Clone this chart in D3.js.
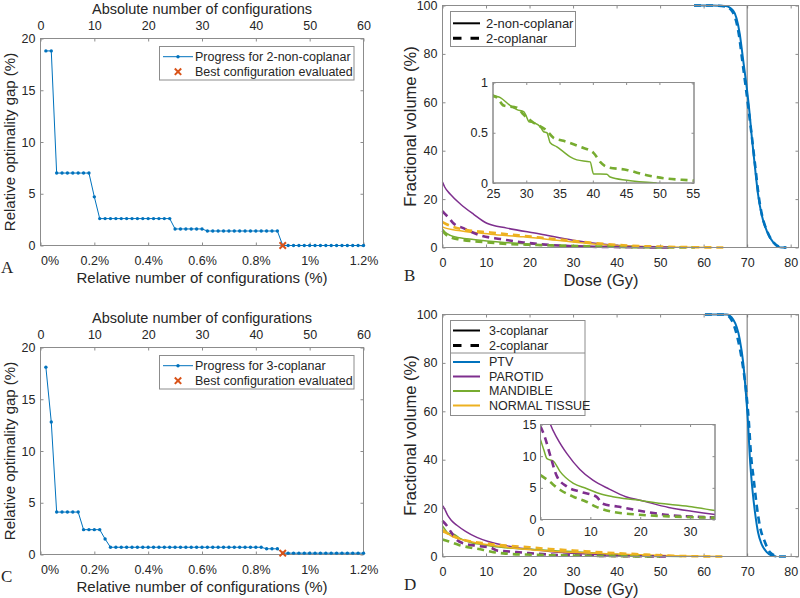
<!DOCTYPE html>
<html><head><meta charset="utf-8">
<script src="https://cdn.jsdelivr.net/npm/d3@7"></script>
<style>
body{margin:0;background:#fff}
svg{display:block}
</style></head><body>
<svg id="chart" width="800" height="598"></svg>
<script>
// ---------------- DATA ----------------
const absTicks = [0,10,20,30,40,50,60];
const relTicks = [0,0.2,0.4,0.6,0.8,1.0,1.2];
const relLabels = ["0%","0.2%","0.4%","0.6%","0.8%","1%","1.2%"];
const gapTicks = [0,5,10,15,20];
const configNumbers = [1,2,3,4,5,6,7,8,9,10,11,12,13,14,15,16,17,18,19,20,21,22,23,24,25,26,27,28,29,30,
  31,32,33,34,35,36,37,38,39,40,41,42,43,44,45,46,47,48,49,50,51,52,53,54,55,56,57,58,59,60];
const gapA = [18.8,18.8, 7.0,7.0,7.0,7.0,7.0,7.0,7.0, 4.7,
  2.6,2.6,2.6,2.6,2.6,2.6,2.6,2.6,2.6,2.6,2.6,2.6,2.6,2.6,
  1.6,1.6,1.6,1.6,1.6,1.6,
  1.4,1.4,1.4,1.4,1.4,1.4,1.4,1.4,1.4,1.4,1.4,1.4,1.4,1.4,
  0,0,0,0,0,0,0,0,0,0,0,0,0,0,0,0];
const gapC = [18.1,12.8, 4.1,4.1,4.1,4.1,4.1, 2.4,2.4,2.4,2.4, 1.5,
  0.7,0.7,0.7,0.7,0.7,0.7,0.7,0.7,0.7,0.7,0.7,0.7,0.7,0.7,0.7,0.7,0.7,0.7,0.7,0.7,0.7,0.7,0.7,0.7,0.7,0.7,0.7,0.7,0.7,
  0.55,0.55,0.55,
  0.13,0.13,0.13,0.13,0.13,0.13,0.13,0.13,0.13,0.13,0.13,0.13,0.13,0.13,0.13,0.13];
const bestA = [45, 0];
const bestC = [45, 0.13];
const legendA = ["Progress for 2-non-coplanar","Best configuration evaluated"];
const legendC = ["Progress for 3-coplanar","Best configuration evaluated"];

const doseTicks = [0,10,20,30,40,50,60,70,80];
const volTicks = [0,20,40,60,80,100];
const prescriptionDose = 70;
const structureNames = ["PTV","PAROTID","MANDIBLE","NORMAL TISSUE"];
const plansB = ["2-non-coplanar","2-coplanar"];
const plansD = ["3-coplanar","2-coplanar"];

// Panel B: [dose Gy, volume %]
const B_PTV_solid = [[57.8,100],[62,100],[65,99.8],[66.8,97.9],[68.3,88.3],[69.1,77.2],[69.9,66.2],[70.5,56.6],[71,46.9],[71.8,33.1],[72.5,22.1],[73.3,13.8],[74.5,6.9],[76,2.1],[77.1,0.4],[78,0],[79,0]];
const B_PTV_dash  = [[57.8,100],[62,100],[65,99.6],[66.6,97.5],[68.1,88],[68.9,77],[69.7,66],[70.4,56],[71,47],[71.9,33],[72.6,22],[73.4,13.5],[74.6,6.7],[76.1,2],[77.2,0.4],[78,0],[79,0]];
const B_PAR_solid = [[0,27],[0.5,25],[1.8,22],[4.1,18],[7.1,13.8],[10.2,10],[14.8,8],[22.4,5.6],[30,3],[37.7,1.2],[45.4,0.3],[52,0]];
const B_PAR_dash  = [[0,15],[0.5,14],[1.4,12.4],[2.5,10],[4.8,8],[8.7,5],[13.3,3.5],[18.6,2.1],[26.9,0.8],[34.3,0.3],[45,0.1],[52,0]];
const B_MAN_solid = [[0,7.6],[0.5,6.5],[1.8,5],[4,4],[7.1,3.3],[10.2,2.7],[14.8,2],[19,1.5],[22.4,1.15],[25,0.876],[26.1,0.85],[27.6,0.77],[28.6,0.73],[29.6,0.71],[29.9,0.68],[30.4,0.61],[31.1,0.6],[32.1,0.56],[32.6,0.51],[33.1,0.5],[33.6,0.4],[34.6,0.36],[35.6,0.31],[36.6,0.26],[37.6,0.23],[39.6,0.21],[40.1,0.09],[42.1,0.087],[42.6,0.06],[45.1,0.027],[49.6,0]];
const B_MAN_dash  = [[0,7],[0.5,5.8],[1.8,4.2],[4,3.3],[7.1,2.6],[10.2,2.1],[14.8,1.5],[19,1.2],[22.4,1.0],[25,0.866],[25.6,0.85],[26.6,0.77],[28.6,0.75],[29.6,0.68],[31.1,0.6],[33.1,0.52],[34.1,0.45],[35.6,0.42],[38.1,0.36],[40.1,0.3],[41.1,0.21],[42.1,0.16],[45.1,0.13],[48.1,0.077],[51.1,0.044],[54.5,0.027],[58,0.01]];
const B_NT_solid  = [[0,8.5],[0.2,8.3],[4.1,6.9],[11,5.5],[18.6,4.4],[26.3,3],[33.9,1.6],[41.6,0.7],[50,0.25],[56,0.08],[62,0]];
const B_NT_dash   = [[0,10.5],[0.2,10.3],[2.5,8.5],[5.6,7.2],[11,6.2],[18.6,4.8],[26.3,3.4],[33.9,2],[41.6,0.9],[50,0.35],[58,0.1],[65,0]];

// Panel D
const D_PTV_solid = [[60.3,100],[65.3,100],[66.8,97.9],[68.3,89.7],[69.1,80],[69.7,67.7],[70.2,55.3],[70.6,41.6],[71.2,27.9],[71.8,18.3],[72.5,10],[73.3,5.2],[74.5,1.8],[75.6,0.4],[76.7,0]];
const D_PTV_dash  = [[60.3,100],[65,100],[66.5,97.5],[67.9,89.5],[68.9,80],[69.8,67.7],[70.4,55.3],[70.9,41.6],[71.5,32],[72.2,21],[72.9,12.8],[74.1,5.9],[75.2,1.8],[76.6,0.3],[77.5,0],[79,0]];
const D_PAR_solid = [[0,21],[0.2,20.6],[1.2,17],[2,15],[3.3,12.9],[5.3,10.4],[7.9,7.9],[10.5,6.2],[13.8,4.8],[17.1,3.6],[20.2,3.0],[25.7,1.9],[30.3,1.3],[35,0.8],[40,0.4],[45,0.15],[50,0]];
const D_PAR_dash  = [[0,14.7],[0.7,13.4],[2,10],[3.3,6.8],[5.3,5.2],[7.9,4.4],[11.2,3.6],[12.5,2.5],[15.8,2],[19.1,1.5],[25.7,0.7],[30.3,0.48],[35,0.3],[42,0.15],[52,0]];
const D_MAN_solid = [[0,12.6],[0.66,11],[1.3,9.6],[2.6,9.2],[3.9,7.6],[6.6,5.7],[9.2,4.9],[11.8,4.1],[14.5,3.6],[19.1,3.1],[25.7,2.4],[30.3,2.0],[35,1.4],[40,0.8],[45,0.3],[50,0.1],[55,0]];
const D_MAN_dash  = [[0,7],[1.3,6.3],[3.9,4.7],[6.6,3.6],[9.2,2.8],[11.2,2],[14.5,1.2],[19.1,0.8],[25.7,0.5],[30.3,0.37],[35,0.27],[42,0.1],[50,0]];
const D_NT_solid  = [[0,10],[0.2,10],[2.5,8],[7.1,5.9],[14.8,3.8],[22.4,2.5],[33.9,1.4],[45.4,0.7],[55,0.2],[64,0]];
const D_NT_dash   = [[0,11],[0.2,10.7],[3,8],[7.1,6],[9.4,5.5],[14.8,4.5],[20,3.8],[24.6,3.1],[30,2.5],[37.6,1.6],[45.4,0.9],[53,0.3],[60,0.05],[64.3,0]];

const insetBxTicks = [25,30,35,40,45,50,55];
const insetByTicks = [0,0.5,1];
const insetDxTicks = [0,10,20,30];
const insetDyTicks = [0,5,10,15];

// ---------------- STYLE ----------------
const svg = d3.select("#chart");
const AX = "#8c8c8c", TXT = "#262626";
const FONT = "'Liberation Sans', Arial, Helvetica, sans-serif";
const SERIF = "'Liberation Serif', 'Times New Roman', serif";
const BLUE = "#0072BD", PURPLE = "#7E2F8E", GREEN = "#77AC30", YELLOW = "#EDB120", ORANGE = "#D95319";
const TICK_FS = 12.5;

function finishAxis(g, fs) {
  g.attr("font-family", FONT).attr("font-size", fs);
  g.select(".domain").remove();
  g.selectAll(".tick line").attr("stroke", AX);
  g.selectAll(".tick text").attr("fill", TXT);
  return g;
}
function frame(L, T, R, B, fill) {
  svg.append("rect").attr("x", L).attr("y", T).attr("width", R - L).attr("height", B - T)
    .attr("fill", fill || "none").attr("stroke", AX).attr("stroke-width", 1);
}
function text(x, y, s, opts) {
  const t = svg.append("text").attr("x", x).attr("y", y).text(s)
    .attr("font-family", opts.family || FONT).attr("font-size", opts.size || 12)
    .attr("fill", TXT).attr("text-anchor", opts.anchor || "start");
  if (opts.rotate) t.attr("transform", `rotate(-90,${x},${y})`);
  if (opts.dy) t.attr("dy", opts.dy);
  return t;
}
function xMark(g, x, y, s) {
  g.append("path").attr("transform", `translate(${x},${y})`)
    .attr("d", `M${-s},${-s}L${s},${s}M${-s},${s}L${s},${-s}`)
    .attr("stroke", ORANGE).attr("stroke-width", 2).attr("fill", "none");
}

// ---------------- PROGRESS PANELS (A, C) ----------------
function progressPanel(off, gaps, best, legendTexts, letter) {
  const L = 40.5, R = 363.5, T = 38.5 + off, B = 245.5 + off;
  const xAbs = d3.scaleLinear().domain([0, 60]).range([L, R]);
  const xRel = d3.scaleLinear().domain([0, 1.2]).range([L, R]);
  const y = d3.scaleLinear().domain([0, 20]).range([B, T]);

  finishAxis(svg.append("g").attr("transform", `translate(0,${T})`)
    .call(d3.axisTop(xAbs).tickValues(absTicks).tickSize(-3).tickPadding(9)), TICK_FS);
  const gb = finishAxis(svg.append("g").attr("transform", `translate(0,${B})`)
    .call(d3.axisBottom(xRel).tickValues(relTicks).tickFormat((d, i) => relLabels[i]).tickSize(-3).tickPadding(11)), TICK_FS);
  gb.selectAll(".tick text").filter((d, i) => i === 0).attr("dx", 9);
  finishAxis(svg.append("g").attr("transform", `translate(${L},0)`)
    .call(d3.axisLeft(y).tickValues(gapTicks).tickSize(-3).tickPadding(5)), TICK_FS);
  finishAxis(svg.append("g").attr("transform", `translate(${R},0)`)
    .call(d3.axisRight(y).tickValues(gapTicks).tickSize(-3).tickFormat(() => "")), TICK_FS);
  frame(L, T, R, B);

  const pts = configNumbers.map((n, i) => [n, gaps[i]]);
  svg.append("path").datum(pts)
    .attr("d", d3.line().x(d => xAbs(d[0])).y(d => y(d[1])))
    .attr("fill", "none").attr("stroke", BLUE).attr("stroke-width", 1);
  svg.append("g").selectAll("circle").data(pts).join("circle")
    .attr("cx", d => xAbs(d[0])).attr("cy", d => y(d[1])).attr("r", 1.7).attr("fill", BLUE);
  xMark(svg, xAbs(best[0]), y(best[1]), 3.2);

  text((L + R) / 2, 14 + off, "Absolute number of configurations", {size: 14.5, anchor: "middle"});
  text((L + R) / 2, 283 + off, "Relative number of configurations (%)", {size: 15, anchor: "middle"});
  text(15, (T + B) / 2, "Relative optimality gap (%)", {size: 15, anchor: "middle", rotate: true});
  text(1, 273 + off, letter, {size: 17, family: SERIF});

  // legend
  const lg = svg.append("g");
  lg.append("rect").attr("x", 159.5).attr("y", 46.5 + off).attr("width", 194.5).attr("height", 33.5)
    .attr("fill", "#fff").attr("stroke", AX).attr("stroke-width", 1);
  const y1 = 56.7 + off, y2 = 71.7 + off;
  lg.append("line").attr("x1", 163).attr("x2", 193).attr("y1", y1).attr("y2", y1).attr("stroke", BLUE).attr("stroke-width", 1);
  lg.append("circle").attr("cx", 178).attr("cy", y1).attr("r", 1.7).attr("fill", BLUE);
  xMark(lg, 178, y2, 3.2);
  text(195, y1, legendTexts[0], {size: 12.5, dy: "0.35em"});
  text(195, y2, legendTexts[1], {size: 12.5, dy: "0.35em"});
}

progressPanel(0, gapA, bestA, legendA, "A");
progressPanel(309, gapC, bestC, legendC, "C");

// ---------------- DVH PANELS (B, D) ----------------
function drawCurves(g, curves, x, y) {
  const line = d3.line().x(d => x(d[0])).y(d => y(d[1])).curve(d3.curveMonotoneX);
  curves.forEach(c => {
    g.append("path").datum(c.data).attr("d", line).attr("fill", "none")
      .attr("stroke", c.color).attr("stroke-width", c.dash ? 2.6 : (c.w || 1.5))
      .attr("stroke-dasharray", c.dash ? "7,5" : null)
      .attr("stroke-linejoin", "round");
  });
}

function dvhPanel(off, curves, inset, letter, id) {
  const L = 442.5, R = 798.5, T = 5.5 + off, B = 247.5 + off;
  const x = d3.scaleLinear().domain([0, 81.8]).range([L, R]);
  const y = d3.scaleLinear().domain([0, 100]).range([B, T]);

  finishAxis(svg.append("g").attr("transform", `translate(0,${B})`)
    .call(d3.axisBottom(x).tickValues(doseTicks).tickSize(-3).tickPadding(11)), TICK_FS);
  finishAxis(svg.append("g").attr("transform", `translate(0,${T})`)
    .call(d3.axisTop(x).tickValues(doseTicks).tickSize(-3).tickFormat(() => "")), TICK_FS);
  finishAxis(svg.append("g").attr("transform", `translate(${L},0)`)
    .call(d3.axisLeft(y).tickValues(volTicks).tickSize(-3).tickPadding(5)), TICK_FS);
  finishAxis(svg.append("g").attr("transform", `translate(${R},0)`)
    .call(d3.axisRight(y).tickValues(volTicks).tickSize(-3).tickFormat(() => "")), TICK_FS);

  svg.append("line").attr("x1", x(prescriptionDose)).attr("x2", x(prescriptionDose))
    .attr("y1", y(0)).attr("y2", y(100)).attr("stroke", "#6e6e6e").attr("stroke-width", 1);

  drawCurves(svg.append("g"), curves, x, y);
  frame(L, T, R, B);

  text(601, 286 + off, "Dose (Gy)", {size: 16.5, anchor: "middle"});
  text(416, (T + B) / 2, "Fractional volume (%)", {size: 16.5, anchor: "middle", rotate: true});
  text(404, 281 + off, letter, {size: 17, family: SERIF});

  // inset
  const ix = d3.scaleLinear().domain(inset.xd).range([inset.L, inset.R]);
  const iy = d3.scaleLinear().domain(inset.yd).range([inset.B, inset.T]);
  frame(inset.L, inset.T, inset.R, inset.B, "#fff");
  svg.append("clipPath").attr("id", id).append("rect")
    .attr("x", inset.L).attr("y", inset.T).attr("width", inset.R - inset.L).attr("height", inset.B - inset.T);
  drawCurves(svg.append("g").attr("clip-path", `url(#${id})`), inset.curves, ix, iy);
  finishAxis(svg.append("g").attr("transform", `translate(0,${inset.B})`)
    .call(d3.axisBottom(ix).tickValues(inset.xt).tickSize(-2.5).tickPadding(inset.xpad)), TICK_FS);
  finishAxis(svg.append("g").attr("transform", `translate(0,${inset.T})`)
    .call(d3.axisTop(ix).tickValues(inset.xt).tickSize(-2.5).tickFormat(() => "")), TICK_FS);
  finishAxis(svg.append("g").attr("transform", `translate(${inset.L},0)`)
    .call(d3.axisLeft(iy).tickValues(inset.yt).tickSize(-2.5).tickPadding(inset.ypad).tickFormat(d3.format("~g"))), TICK_FS);
  finishAxis(svg.append("g").attr("transform", `translate(${inset.R},0)`)
    .call(d3.axisRight(iy).tickValues(inset.yt).tickSize(-2.5).tickFormat(() => "")), TICK_FS);
  frame(inset.L, inset.T, inset.R, inset.B);
}

dvhPanel(0, [
  {data: B_PTV_solid, color: BLUE, w: 2},
  {data: B_PAR_solid, color: PURPLE},
  {data: B_MAN_solid, color: GREEN},
  {data: B_NT_solid, color: YELLOW},
  {data: B_PTV_dash, color: BLUE, dash: true},
  {data: B_PAR_dash, color: PURPLE, dash: true},
  {data: B_MAN_dash, color: GREEN, dash: true},
  {data: B_NT_dash, color: YELLOW, dash: true}
], {L: 493, R: 694, T: 82.5, B: 183, xd: [25, 55.2], yd: [0, 1], xt: insetBxTicks, yt: insetByTicks, xpad: 6, ypad: 5,
    curves: [{data: B_MAN_solid, color: GREEN}, {data: B_MAN_dash, color: GREEN, dash: true}]}, "B", "clipB");

dvhPanel(309, [
  {data: D_PTV_solid, color: BLUE, w: 2},
  {data: D_PAR_solid, color: PURPLE},
  {data: D_MAN_solid, color: GREEN},
  {data: D_NT_solid, color: YELLOW},
  {data: D_PTV_dash, color: BLUE, dash: true},
  {data: D_PAR_dash, color: PURPLE, dash: true},
  {data: D_MAN_dash, color: GREEN, dash: true},
  {data: D_NT_dash, color: YELLOW, dash: true}
], {L: 540.5, R: 715, T: 424.5, B: 519.5, xd: [0, 35], yd: [0, 15], xt: insetDxTicks, yt: insetDyTicks, xpad: 8, ypad: 4,
    curves: [{data: D_PAR_solid, color: PURPLE}, {data: D_MAN_solid, color: GREEN},
             {data: D_PAR_dash, color: PURPLE, dash: true}, {data: D_MAN_dash, color: GREEN, dash: true}]}, "D", "clipD");

// ---------------- LEGENDS B, D ----------------
(function legendB() {
  const g = svg.append("g");
  g.append("rect").attr("x", 450.5).attr("y", 11.5).attr("width", 125).attr("height", 35)
    .attr("fill", "#fff").attr("stroke", AX);
  const ys = [23.3, 38.3];
  g.append("line").attr("x1", 453).attr("x2", 480).attr("y1", ys[0]).attr("y2", ys[0]).attr("stroke", "#000").attr("stroke-width", 2);
  g.append("line").attr("x1", 453).attr("x2", 480).attr("y1", ys[1]).attr("y2", ys[1]).attr("stroke", "#000").attr("stroke-width", 3).attr("stroke-dasharray", "8.5,9");
  plansB.forEach((s, i) => text(486, ys[i], s, {size: 13, dy: "0.35em"}));
})();

(function legendD() {
  const g = svg.append("g");
  g.append("rect").attr("x", 450.5).attr("y", 320.5).attr("width", 134.5).attr("height", 95)
    .attr("fill", "#fff").attr("stroke", AX);
  const ys = [330.5, 345.5];
  g.append("line").attr("x1", 453).attr("x2", 480).attr("y1", ys[0]).attr("y2", ys[0]).attr("stroke", "#000").attr("stroke-width", 2);
  g.append("line").attr("x1", 453).attr("x2", 480).attr("y1", ys[1]).attr("y2", ys[1]).attr("stroke", "#000").attr("stroke-width", 3).attr("stroke-dasharray", "8.5,9");
  plansD.forEach((s, i) => text(489, ys[i], s, {size: 12.5, dy: "0.35em"}));
  g.append("line").attr("x1", 450.5).attr("x2", 585).attr("y1", 353).attr("y2", 353).attr("stroke", AX);
  const cols = [BLUE, PURPLE, GREEN, YELLOW];
  const sy = [362, 376.5, 391, 405.5];
  structureNames.forEach((s, i) => {
    g.append("line").attr("x1", 453).attr("x2", 480).attr("y1", sy[i]).attr("y2", sy[i]).attr("stroke", cols[i]).attr("stroke-width", 2);
    text(489, sy[i], s, {size: 12.5, dy: "0.35em"});
  });
})();
</script>
</body></html>
